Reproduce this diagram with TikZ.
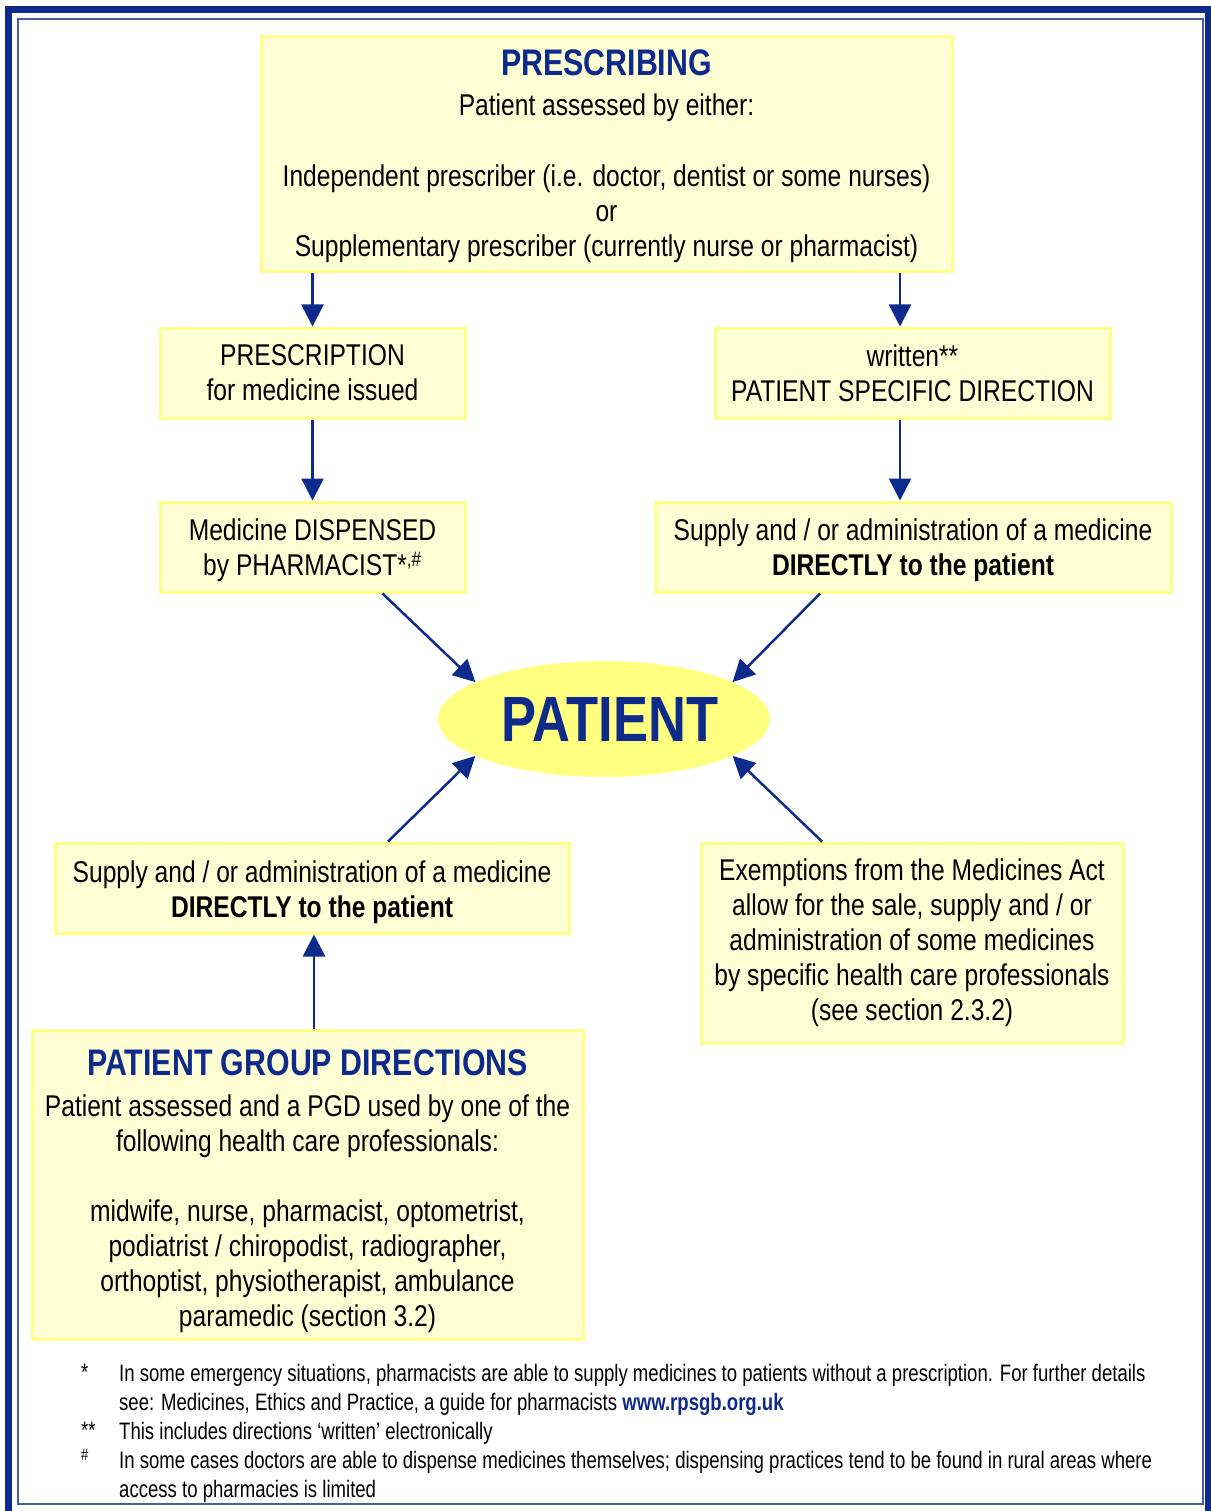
\documentclass[tikz,border=0pt]{standalone}
\usepackage{fontspec}
\setmainfont{Liberation Sans}[FakeStretch=0.82]
\newfontfamily\notefont{Liberation Sans}[FakeStretch=0.78]
\usetikzlibrary{arrows.meta,shapes.geometric}
\definecolor{navy}{RGB}{14,42,138}
\definecolor{framegrey}{RGB}{70,92,165}
\definecolor{boxfill}{RGB}{255,255,214}
\definecolor{boxline}{RGB}{255,255,136}
\definecolor{ovalfill}{RGB}{255,255,128}
\newcommand\bodyfont{\fontsize{30}{35}\selectfont}
\newcommand\headfont{\fontsize{37}{37}\selectfont\bfseries\color{navy}}
\newcommand\notesize{\notefont\fontsize{23.8}{29}\selectfont}

\begin{document}
\begin{tikzpicture}[x=1pt,y=-1pt,
    box/.style={draw=boxline, fill=boxfill, line width=3pt, align=center, inner sep=0pt, font=\bodyfont},
    arr/.style={-{Triangle[length=22pt,width=22pt]}, draw=navy, fill=navy, line width=2.5pt},
    note/.style={anchor=north west, align=left, inner sep=0pt, font=\notesize}]
    \useasboundingbox (0,0) rectangle (1210,1511);
    % frame
    \draw[navy, line width=7pt] (8.5,10) rectangle (1208,1530);
    \draw[framegrey, line width=2pt] (17.5,19.5) rectangle (1202.5,1503.5);
    % boxes
    \node[box, minimum width=691pt, minimum height=235pt] (prescribing) at (606.5,154.5)
        {{\headfont\rule{0pt}{30pt}PRESCRIBING}\\[5pt]
         Patient assessed by either:\\[36pt]
         Independent prescriber (i.e. doctor, dentist or some nurses)\\
         or\\
         Supplementary prescriber (currently nurse or pharmacist)};
    \node[box, minimum width=305pt, minimum height=90pt] (script) at (312.5,373)
        {PRESCRIPTION\\ for medicine issued};
    \node[box, minimum width=395pt, minimum height=90pt] (psd) at (912.5,373)
        {written**\\ PATIENT SPECIFIC DIRECTION};
    \node[box, minimum width=305pt, minimum height=90pt] (dispensed) at (312.5,547)
        {\rule{0pt}{28pt}Medicine DISPENSED\\ by PHARMACIST*\textsuperscript{,\#}};
    \node[box, minimum width=516pt, minimum height=90pt] (supplyR) at (913,547)
        {\rule{0pt}{28pt}Supply and / or administration of a medicine\\ \textbf{DIRECTLY to the patient}};
    \node[ellipse, fill=ovalfill, minimum width=332pt, minimum height=116pt, inner sep=0pt,
        font=\fontsize{64}{64}\selectfont\bfseries, text=navy] (patient) at (604,719) {\hspace*{12pt}PATIENT};
    \node[box, minimum width=514pt, minimum height=90pt] (supplyL) at (312,888)
        {\rule{0pt}{30pt}Supply and / or administration of a medicine\\ \textbf{DIRECTLY to the patient}};
    \node[box, minimum width=422pt, minimum height=200pt] (exempt) at (912,943)
        {Exemptions from the Medicines Act\\
         allow for the sale, supply and / or\\
         administration of some medicines\\
         by specific health care professionals\\
         (see section 2.3.2)};
    \node[box, minimum width=551pt, minimum height=309pt] (pgd) at (307.5,1184.5)
        {{\headfont\rule{0pt}{39pt}PATIENT GROUP DIRECTIONS}\\[6pt]
         Patient assessed and a PGD used by one of the\\
         following health care professionals:\\[35pt]
         midwife, nurse, pharmacist, optometrist,\\
         podiatrist / chiropodist, radiographer,\\
         orthoptist, physiotherapist, ambulance\\
         paramedic (section 3.2)};
    % arrows
    \coordinate (psdin) at ([xshift=-12.5pt]psd.north);
    \coordinate (pgdout) at ([xshift=6.5pt]pgd.north);
    \draw[arr] (prescribing.south -| script.north) -- (script.north);
    \draw[arr] (psdin |- prescribing.south) -- (psdin);
    \draw[arr] (script) -- (dispensed);
    \draw[arr] (psdin |- psd.south) -- (psdin |- supplyR.north);
    \draw[arr] ([xshift=70pt]dispensed.south) -- (patient.164);
    \draw[arr] ([xshift=-93pt]supplyR.south) -- (patient.16);
    \draw[arr] ([xshift=76pt]supplyL.north) -- (patient.196);
    \draw[arr] ([xshift=-90pt]exempt.north) -- (patient.344);
    \draw[arr] (pgdout) -- (pgdout |- supplyL.south);
    % footnotes
    \node[note] (fm1) at (81,1364) {*};
    \node[note] (fn1) at (119,1364)
        {In some emergency situations, pharmacists are able to supply medicines to patients without a prescription. For further details\\
         see: Medicines, Ethics and Practice, a guide for pharmacists \textbf{\color{navy}www.rpsgb.org.uk}};
    \node[note] (fm2) at (81,1422) {**};
    \node[note] (fn2) at (119,1422) {This includes directions ‘written’ electronically};
    \node[note] (fm3) at (81,1449) {\textsuperscript{\#}};
    \node[note] (fn3) at (119,1451)
        {In some cases doctors are able to dispense medicines themselves; dispensing practices tend to be found in rural areas where\\
         access to pharmacies is limited};
\end{tikzpicture}
\end{document}
